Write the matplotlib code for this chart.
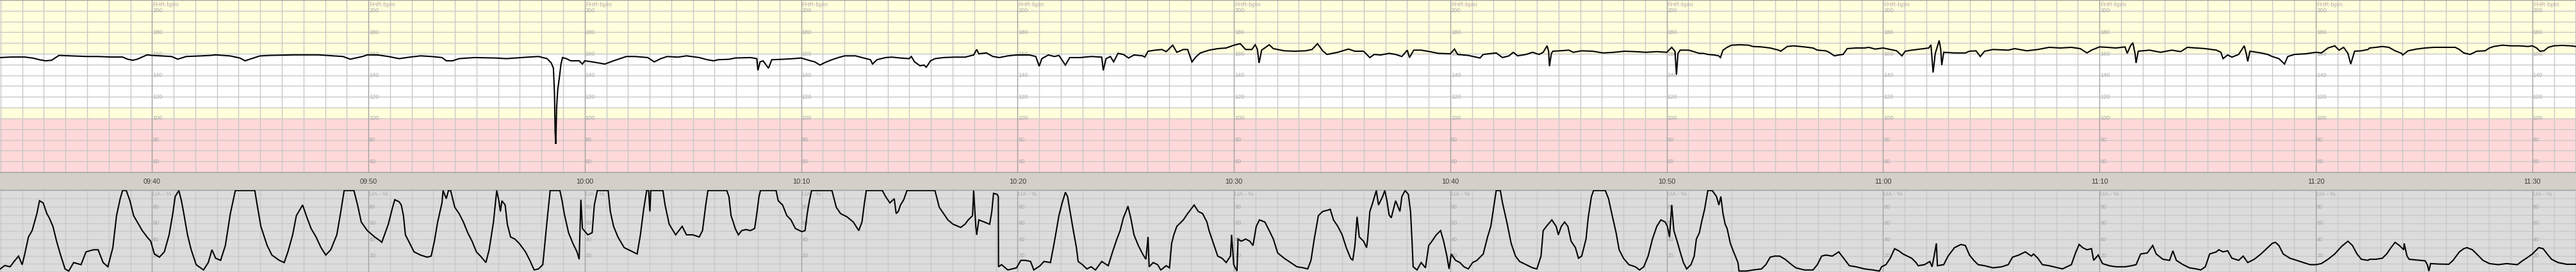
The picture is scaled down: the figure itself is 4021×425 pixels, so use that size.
import matplotlib
matplotlib.use('Agg')
import matplotlib.pyplot as plt

plt.rcParams['font.family'] = ['Liberation Sans', 'DejaVu Sans']

# ---------------- data (time = minutes after 09:30) ----------------
time_labels = ['09:40', '09:50', '10:00', '10:10', '10:20', '10:30',
               '10:40', '10:50', '11:00', '11:10', '11:20', '11:30']
major_minutes = [10, 20, 30, 40, 50, 60, 70, 80, 90, 100, 110, 120]
fhr_ticks = [200, 180, 160, 140, 120, 100, 80, 60]
ua_ticks = [80, 60, 40, 20]

fhr_points = [
    (2.99, 156.5), (3.5, 157.0), (4.12, 157.0), (4.5, 156.0), (4.8, 154.5), (5.08, 153.5),
    (5.36, 154.0), (5.7, 158.5), (6.38, 158.0), (7.0, 157.5), (7.51, 157.5), (8.1, 157.0),
    (8.64, 157.0), (8.87, 155.0), (9.1, 154.0), (9.32, 155.0), (9.77, 159.0), (10.0, 158.5),
    (10.9, 157.5), (11.19, 155.0), (11.58, 157.5), (12.2, 158.0), (12.71, 158.5), (12.94, 159.0),
    (13.62, 158.0), (14.07, 156.0), (14.30, 153.5), (14.52, 155.0), (14.98, 158.0), (15.43, 158.5),
    (16.56, 159.0), (17.69, 159.0), (18.82, 157.5), (19.16, 155.0), (19.73, 157.5), (19.95, 159.0),
    (20.43, 158.9), (20.92, 157.5), (21.42, 155.5), (21.91, 156.9), (22.41, 158.1), (22.90, 157.5),
    (23.40, 156.5), (23.60, 153.5), (23.89, 153.5), (24.19, 155.5), (24.89, 156.5), (25.88, 156.1),
    (26.37, 155.5), (27.36, 156.9), (27.86, 157.5), (28.26, 155.5), (28.45, 151.5), (28.55, 146.6),
    (28.60, 122.8), (28.63, 87.1), (28.66, 76.2), (28.70, 110.9), (28.75, 126.7), (28.83, 138.6),
    (28.90, 150.5), (28.97, 156.5), (29.15, 155.5), (29.35, 153.5), (29.74, 153.5), (29.89, 150.5),
    (30.0, 153.5), (30.34, 152.5), (30.93, 150.5), (31.33, 153.5), (31.92, 157.5), (32.32, 157.5),
    (32.91, 156.5), (33.21, 152.5), (33.51, 155.5), (33.81, 157.5), (34.30, 156.9), (34.70, 158.1),
    (35.29, 156.5), (35.66, 154.5), (35.96, 153.5), (36.16, 154.5), (36.66, 154.9), (36.95, 156.1),
    (37.65, 156.5), (37.95, 155.5), (38.0, 144.6), (38.10, 152.5), (38.24, 153.5), (38.49, 146.6),
    (38.64, 154.5), (39.14, 154.9), (39.63, 155.5), (40.0, 156.1), (40.43, 153.5), (40.63, 152.5),
    (40.87, 149.5), (41.12, 152.1), (41.42, 154.5), (41.72, 156.5), (42.01, 158.1), (42.51, 158.1),
    (42.81, 156.5), (43.20, 154.5), (43.30, 150.5), (43.50, 154.5), (43.90, 156.5), (44.20, 156.9),
    (44.59, 156.1), (44.99, 155.5), (45.09, 157.5), (45.24, 152.5), (45.49, 148.9), (45.68, 149.5),
    (45.78, 147.5), (45.98, 153.5), (46.18, 155.5), (46.58, 156.5), (47.07, 156.9), (47.57, 156.9),
    (47.97, 158.9), (48.11, 164.0), (48.21, 160.0), (48.56, 160.8), (48.86, 157.5), (49.16, 156.5),
    (49.55, 158.1), (49.95, 158.9), (50.55, 158.9), (50.84, 157.5), (51.0, 148.5), (51.12, 155.5),
    (51.42, 158.9), (51.71, 157.5), (51.91, 158.5), (52.01, 155.5), (52.21, 149.5), (52.41, 156.5),
    (52.90, 156.5), (53.40, 157.5), (53.89, 156.9), (53.96, 144.6), (54.09, 155.5), (54.29, 157.5),
    (54.44, 152.5), (54.64, 160.4), (54.89, 159.4), (55.13, 156.1), (55.38, 158.9), (55.78, 158.1),
    (55.88, 156.9), (56.03, 162.4), (56.37, 163.4), (56.67, 164.0), (56.87, 162.0), (57.17, 168.0),
    (57.36, 161.4), (57.66, 164.0), (57.86, 164.0), (58.06, 152.5), (58.26, 157.5), (58.45, 160.8),
    (58.85, 163.4), (59.25, 164.8), (59.64, 165.4), (60.0, 168.0), (60.29, 169.4), (60.54, 164.0),
    (60.83, 164.0), (60.98, 168.4), (61.08, 164.4), (61.16, 151.5), (61.28, 163.4), (61.63, 168.4),
    (61.82, 164.8), (62.32, 162.8), (62.81, 162.4), (63.31, 162.8), (63.61, 164.0), (63.86, 169.4),
    (64.10, 162.8), (64.30, 159.4), (64.80, 161.4), (65.29, 164.4), (65.59, 162.4), (65.99, 162.4),
    (66.23, 157.5), (66.28, 156.5), (66.48, 159.4), (66.78, 158.9), (67.17, 160.4), (67.47, 159.4),
    (67.76, 157.5), (68.01, 163.4), (68.11, 156.5), (68.31, 163.4), (68.65, 163.4), (69.05, 162.0),
    (69.45, 160.4), (70.0, 160.0), (70.19, 164.4), (70.34, 159.4), (70.83, 158.5), (71.37, 156.1),
    (71.52, 159.4), (72.12, 160.8), (72.41, 156.5), (72.71, 158.1), (72.91, 161.4), (73.11, 158.1),
    (73.50, 159.4), (73.80, 161.4), (74.10, 159.4), (74.29, 161.4), (74.47, 167.4), (74.54, 162.4),
    (74.58, 148.5), (74.67, 160.4), (74.74, 162.4), (75.08, 162.8), (75.48, 163.4), (75.68, 161.4),
    (76.07, 162.8), (76.57, 162.4), (77.06, 160.8), (77.56, 161.4), (78.05, 162.4), (78.55, 162.0),
    (79.04, 161.4), (79.54, 162.0), (80.0, 161.4), (80.23, 166.0), (80.38, 162.4), (80.45, 140.6),
    (80.52, 160.4), (80.62, 163.4), (81.02, 163.4), (81.51, 160.4), (81.70, 160.4), (81.90, 159.4),
    (82.20, 158.9), (82.40, 158.1), (82.48, 156.5), (82.60, 163.4), (82.79, 166.0), (82.99, 168.0),
    (83.39, 168.4), (83.79, 168.0), (83.98, 166.8), (84.38, 166.4), (84.78, 165.4), (85.17, 163.4),
    (85.27, 162.4), (85.57, 166.8), (85.87, 167.4), (86.36, 166.4), (86.76, 165.4), (86.96, 163.4),
    (87.35, 162.8), (87.50, 161.4), (87.75, 158.1), (87.95, 158.9), (88.15, 159.4), (88.34, 164.8),
    (88.74, 165.4), (89.14, 165.4), (89.34, 166.0), (89.63, 164.4), (90.0, 165.4), (90.33, 164.0),
    (90.62, 162.8), (90.87, 158.1), (91.02, 162.4), (91.32, 163.4), (91.71, 164.4), (92.11, 165.4),
    (92.21, 168.4), (92.31, 142.6), (92.41, 160.4), (92.59, 172.3), (92.66, 164.4), (92.71, 149.5),
    (92.80, 161.4), (93.30, 160.8), (93.80, 160.8), (93.99, 162.4), (94.29, 162.8), (94.49, 157.5),
    (94.69, 162.4), (95.08, 164.0), (95.78, 163.4), (96.08, 164.8), (96.47, 163.4), (96.64, 162.8),
    (97.15, 164.0), (97.67, 166.0), (98.19, 165.4), (98.70, 166.0), (99.11, 164.8), (99.42, 160.8),
    (99.63, 163.4), (100.0, 166.4), (100.35, 166.0), (100.76, 165.4), (101.18, 166.4), (101.28, 160.4),
    (101.43, 167.4), (101.54, 170.3), (101.64, 160.4), (101.69, 151.5), (101.79, 162.4), (102.31, 163.4),
    (102.82, 161.4), (103.34, 163.4), (103.75, 162.0), (104.06, 166.0), (104.89, 164.8), (105.40, 163.4),
    (105.61, 161.4), (105.71, 155.5), (105.92, 158.9), (106.12, 156.9), (106.43, 159.4), (106.69, 167.4),
    (106.79, 159.4), (106.85, 152.9), (106.95, 162.4), (107.46, 160.8), (107.77, 159.4), (107.98, 157.5),
    (108.29, 155.5), (108.55, 150.5), (108.70, 157.5), (109.01, 159.4), (109.53, 160.0), (110.0, 161.4),
    (110.25, 160.8), (110.56, 165.4), (110.87, 167.4), (111.07, 163.4), (111.28, 166.0), (111.48, 160.4),
    (111.61, 150.5), (111.79, 162.4), (112.10, 162.8), (112.41, 164.0), (112.48, 165.4), (112.77, 166.0),
    (113.07, 166.8), (113.37, 166.0), (113.66, 162.8), (113.96, 160.4), (114.01, 158.9), (114.26, 162.8),
    (114.65, 164.4), (115.05, 165.4), (115.45, 166.0), (116.04, 166.0), (116.44, 166.0), (116.63, 164.0),
    (116.83, 160.8), (117.13, 159.4), (117.43, 162.4), (117.82, 162.8), (118.02, 165.4), (118.22, 166.8),
    (118.61, 168.0), (119.01, 167.4), (119.41, 167.4), (119.80, 166.8), (120.0, 167.4), (120.20, 165.4),
    (120.35, 162.4), (120.54, 162.8), (120.74, 166.0), (120.99, 167.4), (121.39, 167.8), (121.78, 167.4),
    (122.01, 166.8),
]

ua_points = [
    (2.99, 3.8), (3.2, 8.0), (3.44, 6.4), (3.6, 12.0), (3.83, 19.5), (4.0, 9.0), (4.12, 22.1),
    (4.29, 43.0), (4.46, 50.8), (4.68, 71.7), (4.80, 87.4), (4.97, 84.8), (5.14, 71.7), (5.25, 66.5),
    (5.42, 56.0), (5.59, 37.8), (5.76, 22.1), (5.98, 3.8), (6.15, 1.2), (6.38, 11.6), (6.72, 9.0),
    (6.95, 24.7), (7.29, 27.3), (7.51, 27.3), (7.74, 11.6), (7.96, 6.4), (8.19, 29.9), (8.36, 69.1),
    (8.53, 90.0), (8.64, 100), (8.81, 100), (8.98, 87.4), (9.15, 69.1), (9.32, 61.3), (9.55, 50.8),
    (9.77, 43.0), (9.94, 37.8), (10.11, 22.1), (10.34, 18.2), (10.57, 24.7), (10.79, 45.6), (10.96, 71.7),
    (11.07, 92.6), (11.24, 100), (11.36, 87.4), (11.47, 71.7), (11.64, 45.6), (11.81, 27.3), (12.04, 9.0),
    (12.38, 2.5), (12.60, 11.6), (12.77, 27.3), (12.94, 16.9), (13.17, 14.3), (13.39, 32.5), (13.62, 71.7),
    (13.85, 100), (14.75, 100), (14.86, 82.2), (15.03, 56.0), (15.32, 32.5), (15.54, 20.8), (15.88, 14.3),
    (16.11, 11.6), (16.28, 24.7), (16.50, 45.6), (16.67, 69.1), (16.96, 82.2), (17.13, 69.1), (17.35, 53.4),
    (17.58, 43.0), (17.81, 29.9), (18.03, 20.8), (18.26, 27.3), (18.54, 45.6), (18.71, 71.7), (18.88, 100),
    (19.33, 100), (19.50, 82.2), (19.67, 61.3), (19.95, 50.8), (20.29, 43.0), (20.43, 40.4), (20.62, 36.5),
    (20.92, 58.6), (21.12, 79.5), (21.22, 88.7), (21.42, 86.1), (21.52, 82.2), (21.62, 69.1), (21.71, 45.6),
    (21.91, 35.1), (22.11, 24.7), (22.41, 20.8), (22.71, 18.2), (22.90, 19.5), (23.05, 37.8), (23.20, 61.3),
    (23.40, 84.8), (23.45, 100), (23.6, 90.0), (23.7, 100), (23.80, 100), (23.99, 79.5), (24.19, 71.7),
    (24.39, 61.3), (24.59, 48.2), (24.79, 37.8), (24.99, 24.7), (25.18, 19.5), (25.43, 11.6), (25.58, 27.3),
    (25.78, 61.3), (25.93, 100), (26.03, 87.4), (26.1, 74.3), (26.17, 87.4), (26.32, 82.2), (26.42, 58.6),
    (26.57, 43.0), (26.77, 40.4), (26.97, 35.1), (27.26, 24.7), (27.46, 14.3), (27.66, 2.5), (27.86, 3.8),
    (28.06, 9.0), (28.26, 63.9), (28.40, 100), (28.85, 100), (28.95, 87.4), (29.05, 71.7), (29.25, 48.2),
    (29.45, 35.1), (29.64, 24.7), (29.74, 15.6), (29.82, 88.7), (29.89, 53.4), (30.14, 45.6), (30.34, 48.2),
    (30.44, 82.2), (30.58, 100), (31.08, 100), (31.18, 74.3), (31.33, 56.0), (31.53, 43.0), (31.82, 29.9),
    (32.12, 26.0), (32.42, 22.1), (32.57, 45.6), (32.72, 76.9), (32.86, 100), (32.95, 100), (33.01, 74.3),
    (33.05, 100), (33.61, 100), (33.71, 82.2), (33.90, 58.6), (34.20, 45.6), (34.50, 56.0), (34.70, 45.6),
    (34.99, 45.6), (35.29, 43.0), (35.44, 50.8), (35.59, 82.2), (35.69, 100), (36.56, 100), (36.66, 92.6),
    (36.76, 69.1), (36.86, 61.3), (36.95, 53.4), (37.10, 45.6), (37.25, 50.8), (37.45, 52.1), (37.65, 50.8),
    (37.85, 53.4), (37.95, 71.7), (38.05, 92.6), (38.12, 100), (38.84, 100), (38.94, 87.4), (39.14, 82.2),
    (39.34, 69.1), (39.53, 63.9), (39.73, 53.4), (40.03, 49.5), (40.18, 50.8), (40.28, 71.7), (40.38, 87.4),
    (40.48, 100), (41.42, 100), (41.52, 90.0), (41.62, 79.5), (41.82, 71.7), (42.11, 67.8), (42.41, 61.3),
    (42.66, 50.8), (42.81, 61.3), (42.91, 82.2), (43.01, 100), (43.75, 100), (43.90, 92.6), (44.10, 84.8),
    (44.30, 90.0), (44.39, 71.7), (44.49, 74.3), (44.59, 82.2), (44.74, 88.7), (44.89, 100), (46.18, 100),
    (46.28, 90.0), (46.38, 79.5), (46.58, 71.7), (46.78, 63.9), (47.02, 58.6), (47.37, 54.7), (47.57, 58.6),
    (47.72, 63.9), (47.92, 69.1), (47.97, 100), (48.07, 56.0), (48.11, 45.6), (48.21, 63.9), (48.46, 61.3),
    (48.71, 58.6), (48.81, 74.3), (48.89, 96.5), (49.06, 95.2), (49.11, 92.6), (49.12, 6.4), (49.26, 9.0),
    (49.55, 2.5), (49.95, 5.1), (50.15, 14.3), (50.35, 14.3), (50.60, 13.0), (50.75, 2.5), (51.04, 7.7),
    (51.22, 12.9), (51.52, 11.6), (51.67, 32.5), (51.81, 53.4), (51.91, 69.1), (52.06, 84.8), (52.21, 97.8),
    (52.31, 92.6), (52.46, 69.1), (52.56, 53.4), (52.72, 29.9), (52.80, 12.9), (53.00, 9.0), (53.20, 3.8),
    (53.40, 6.4), (53.60, 2.5), (53.89, 12.9), (54.19, 7.7), (54.39, 24.7), (54.59, 40.4), (54.74, 50.8),
    (54.89, 66.5), (55.03, 75.6), (55.10, 80.8), (55.23, 66.5), (55.38, 45.6), (55.58, 32.5), (55.78, 22.1),
    (55.93, 15.6), (56.03, 43.0), (56.08, 6.4), (56.27, 11.6), (56.47, 9.0), (56.62, 2.5), (56.87, 7.7),
    (57.02, 5.1), (57.12, 35.1), (57.22, 45.6), (57.36, 56.0), (57.66, 63.9), (57.86, 71.7), (58.01, 76.9),
    (58.16, 82.2), (58.35, 74.3), (58.55, 71.7), (58.75, 61.3), (58.85, 50.8), (59.05, 35.1), (59.25, 19.5),
    (59.45, 16.9), (59.64, 11.6), (59.84, 19.5), (59.89, 45.6), (59.99, 9.0), (60.14, 1.2), (60.19, 40.4),
    (60.34, 37.8), (60.54, 40.4), (60.73, 37.8), (60.88, 32.5), (61.03, 56.0), (61.18, 63.9), (61.43, 61.3),
    (61.63, 50.8), (61.82, 40.4), (62.02, 23.4), (62.32, 16.9), (62.62, 11.6), (62.91, 6.4), (63.21, 5.1),
    (63.41, 3.8), (63.56, 14.3), (63.71, 40.4), (63.90, 69.1), (64.10, 74.3), (64.30, 75.6), (64.45, 76.9),
    (64.60, 63.9), (64.80, 56.0), (65.00, 45.6), (65.19, 29.9), (65.39, 16.9), (65.49, 14.3), (65.59, 32.5),
    (65.69, 67.8), (65.79, 43.0), (65.99, 37.8), (66.13, 29.9), (66.18, 40.4), (66.28, 74.3), (66.38, 82.2),
    (66.58, 100), (66.68, 82.2), (66.87, 92.6), (66.97, 100), (67.07, 87.4), (67.17, 70.0), (67.27, 66.5),
    (67.47, 87.4), (67.67, 74.3), (67.76, 92.6), (67.91, 100), (68.06, 95.2), (68.16, 74.3), (68.23, 37.8),
    (68.28, 6.4), (68.46, 2.5), (68.65, 11.6), (68.85, 5.1), (69.0, 32.5), (69.15, 37.8), (69.35, 45.6),
    (69.55, 50.8), (69.69, 37.8), (69.84, 19.5), (69.94, 3.8), (70.04, 22.1), (70.24, 14.3), (70.44, 11.6),
    (70.63, 6.4), (70.83, 3.8), (71.03, 11.6), (71.23, 14.3), (71.52, 22.1), (71.72, 43.0), (71.87, 56.0),
    (72.02, 82.2), (72.12, 100), (72.31, 100), (72.41, 84.8), (72.61, 61.3), (72.81, 35.1), (73.01, 19.5),
    (73.20, 12.9), (73.50, 9.0), (73.80, 5.1), (74.0, 3.8), (74.19, 19.5), (74.29, 50.8), (74.44, 56.0),
    (74.69, 63.9), (74.89, 56.0), (74.99, 45.6), (75.13, 56.0), (75.28, 61.3), (75.43, 56.0), (75.58, 37.8),
    (75.78, 29.9), (75.92, 16.9), (76.07, 19.5), (76.27, 40.4), (76.37, 66.5), (76.52, 92.6), (76.62, 100),
    (77.16, 100), (77.31, 90.0), (77.46, 71.7), (77.66, 48.2), (77.80, 27.3), (78.0, 16.9), (78.25, 9.0),
    (78.55, 6.4), (78.74, 2.5), (78.94, 6.4), (79.14, 19.5), (79.34, 40.4), (79.54, 56.0), (79.73, 63.9),
    (79.93, 61.3), (80.03, 56.0), (80.13, 43.0), (80.23, 82.2), (80.33, 50.8), (80.48, 37.8), (80.62, 24.7),
    (80.77, 11.6), (80.92, 3.8), (81.12, 9.0), (81.27, 19.5), (81.37, 40.4), (81.51, 48.2), (81.61, 61.3),
    (81.75, 76.9), (81.90, 100), (82.10, 100), (82.30, 92.6), (82.41, 82.2), (82.50, 92.6), (82.60, 71.7),
    (82.70, 58.6), (82.79, 53.4), (82.94, 35.1), (83.09, 24.7), (83.29, 11.6), (83.34, 1.2), (83.69, 1.2),
    (83.98, 2.5), (84.38, 3.8), (84.58, 9.0), (84.78, 18.2), (84.98, 19.5), (85.22, 19.5), (85.47, 15.6),
    (85.77, 9.0), (85.97, 5.1), (86.36, 2.5), (86.76, 2.5), (86.96, 9.0), (87.16, 19.5), (87.35, 20.8),
    (87.65, 19.5), (87.95, 24.7), (88.25, 14.3), (88.44, 7.7), (88.74, 6.4), (89.14, 3.8), (89.53, 2.5),
    (89.83, 1.2), (89.93, 6.4), (90.13, 9.0), (90.33, 16.9), (90.53, 28.6), (90.72, 26.0), (90.92, 22.1),
    (91.32, 16.9), (91.52, 11.6), (91.62, 7.7), (91.91, 9.0), (92.16, 12.9), (92.26, 6.4), (92.36, 20.0),
    (92.46, 35.1), (92.51, 7.7), (92.80, 9.0), (93.0, 19.5), (93.30, 29.9), (93.60, 33.8), (93.80, 32.5),
    (93.99, 20.8), (94.19, 14.3), (94.39, 9.0), (94.69, 7.7), (95.08, 5.1), (95.48, 6.4), (95.78, 9.0),
    (95.98, 18.2), (96.27, 20.8), (96.57, 24.7), (96.85, 19.5), (96.95, 22.1), (97.15, 16.9), (97.36, 9.0),
    (97.67, 7.7), (98.08, 5.1), (98.29, 3.8), (98.49, 6.4), (98.70, 9.0), (98.91, 24.7), (99.06, 33.8),
    (99.22, 29.9), (99.42, 27.3), (99.63, 28.6), (99.73, 14.3), (99.94, 20.8), (100.14, 10.3), (100.45, 7.7),
    (100.76, 6.4), (101.18, 6.4), (101.48, 7.7), (101.69, 9.0), (101.90, 22.1), (102.21, 23.4), (102.46, 32.5),
    (102.62, 22.1), (102.93, 15.6), (103.24, 14.3), (103.39, 26.0), (103.55, 14.3), (103.86, 9.0), (104.16, 5.1),
    (104.47, 3.8), (104.68, 2.5), (104.89, 6.4), (105.09, 22.1), (105.40, 24.7), (105.51, 27.3), (105.71, 24.7),
    (105.92, 26.0), (106.12, 16.9), (106.43, 14.3), (106.64, 19.5), (106.85, 11.6), (107.15, 15.6), (107.46, 22.1),
    (107.77, 29.9), (107.98, 35.1), (108.13, 36.4), (108.29, 32.5), (108.49, 22.1), (108.80, 16.9), (109.11, 14.3),
    (109.42, 11.6), (109.73, 9.0), (110.0, 9.0), (110.25, 10.3), (110.56, 15.6), (110.87, 22.1), (111.18, 31.2),
    (111.48, 37.8), (111.69, 32.5), (111.90, 22.1), (112.10, 15.6), (112.41, 14.3), (112.48, 15.6), (112.77, 15.6),
    (113.07, 16.9), (113.27, 22.1), (113.47, 29.9), (113.66, 36.4), (113.86, 32.5), (114.06, 27.3), (114.08, 35.1),
    (114.21, 19.5), (114.31, 15.6), (114.65, 14.7), (115.05, 13.7), (115.15, 9.0), (115.22, 1.2), (115.30, 10.3),
    (115.64, 9.8), (116.14, 9.5), (116.34, 14.3), (116.63, 24.7), (116.83, 28.6), (116.98, 29.9), (117.23, 27.3),
    (117.43, 22.1), (117.72, 14.3), (118.02, 10.3), (118.42, 9.0), (118.81, 10.3), (119.31, 9.0), (119.50, 12.9),
    (119.80, 18.2), (120.0, 22.1), (120.30, 29.9), (120.50, 28.6), (120.69, 22.1), (120.89, 15.6), (121.19, 11.6),
    (121.58, 9.5), (122.01, 9.5),
]

fhr_t = [p[0] for p in fhr_points]
fhr_v = [p[1] for p in fhr_points]
ua_t = [p[0] for p in ua_points]
ua_v = [p[1] for p in ua_points]

# ---------------- layout ----------------
W, H = 4021, 425
T0, T1 = 2.975, 122.02
fig = plt.figure(figsize=(W / 100, H / 100), dpi=100)
fig.patch.set_facecolor('white')

ax_f = fig.add_axes([0, 156 / H, 1, 269 / H])
ax_b = fig.add_axes([0, 128 / H, 1, 28 / H])
ax_u = fig.add_axes([0, 0, 1, 128 / H])

MINOR = '#C8C8C8'
MAJOR = '#A0A0A0'
LBL = '#A8A8A8'

minutes = list(range(3, 123))

# FHR panel
ax_f.set_xlim(T0, T1)
ax_f.set_ylim(50, 210)
ax_f.axhspan(160, 210, color='#FFFFDC', lw=0, zorder=0)
ax_f.axhspan(110, 160, color='#FFFFFF', lw=0, zorder=0)
ax_f.axhspan(100, 110, color='#FFFFDC', lw=0, zorder=0)
ax_f.axhspan(50, 100, color='#FFD9D9', lw=0, zorder=0)
for y in range(60, 210, 10):
    ax_f.axhline(y, color=MINOR, lw=1.0, zorder=1)
for m in minutes:
    ax_f.axvline(m, color=MAJOR if m % 10 == 0 else MINOR, lw=1.0, zorder=1)
for m in major_minutes:
    ax_f.text(m + 0.03, 205.8, 'FHR-bpm', color='#BBA8A8', fontsize=6.8,
              ha='left', va='center', zorder=2)
    for v in fhr_ticks:
        ax_f.text(m + 0.03, v, str(v), color=LBL, fontsize=6.6,
                  ha='left', va='center', zorder=2)
ax_f.plot(fhr_t, fhr_v, color='black', lw=1.5, zorder=3, solid_joinstyle='miter')

# time band
ax_b.set_xlim(T0, T1)
ax_b.set_ylim(0, 1)
ax_b.set_facecolor('#D4D0C8')
for m, lab in zip(major_minutes, time_labels):
    ax_b.text(m, 0.45, lab, color='#3A3A3A', fontsize=7.8, ha='center', va='center')

# UA panel
ax_u.set_xlim(T0, T1)
ax_u.set_ylim(0, 100.5)
ax_u.set_facecolor('#DCDCDC')
for y in range(10, 100, 10):
    ax_u.axhline(y, color=MINOR, lw=1.0, zorder=1)
for m in minutes:
    ax_u.axvline(m, color=MAJOR if m % 10 == 0 else MINOR, lw=1.0, zorder=1)
for m in major_minutes:
    ax_u.text(m + 0.03, 95.5, 'UA - %', color=LBL, fontsize=6.8,
              ha='left', va='center', zorder=2)
    for v in ua_ticks:
        ax_u.text(m + 0.03, v, str(v), color=LBL, fontsize=6.6,
                  ha='left', va='center', zorder=2)
ax_u.plot(ua_t, ua_v, color='black', lw=1.5, zorder=3, solid_joinstyle='miter')

for ax in (ax_f, ax_b, ax_u):
    ax.set_xticks([])
    ax.set_yticks([])
    for s in ('left', 'right'):
        ax.spines[s].set_visible(False)
    for s in ('top', 'bottom'):
        ax.spines[s].set_color(MAJOR)
        ax.spines[s].set_linewidth(1.0)

fig.savefig('out.png', dpi=100, facecolor=fig.get_facecolor())
